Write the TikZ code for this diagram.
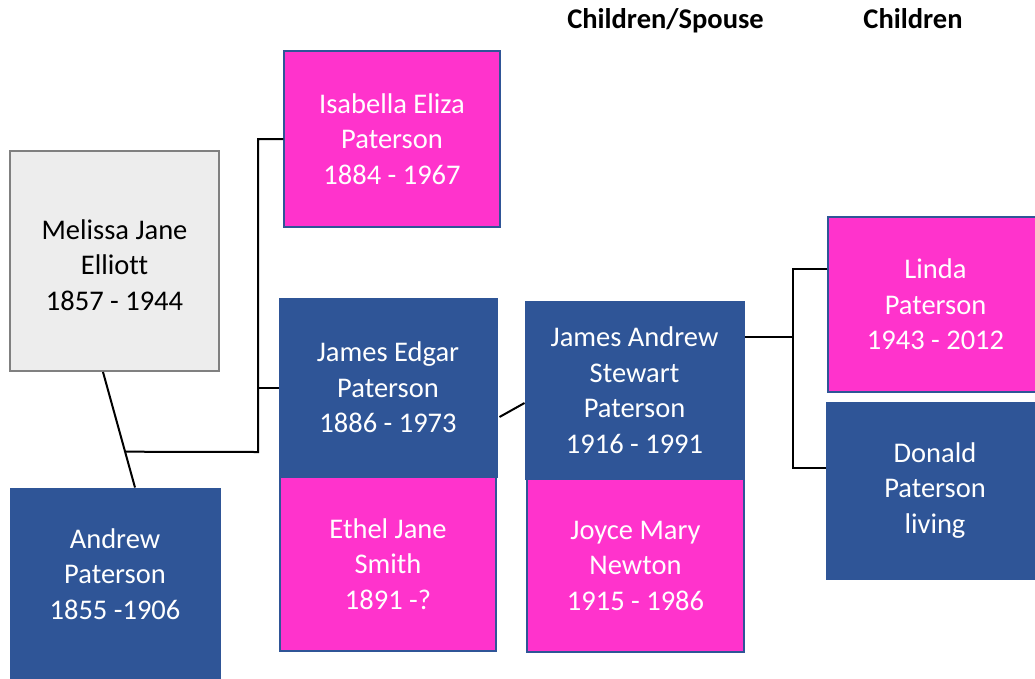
\documentclass[tikz,border=0pt]{standalone}
\usepackage{fontspec}
\setmainfont[Ligatures=NoCommon]{Carlito}
\usetikzlibrary{calc}
\definecolor{nblue}{HTML}{2F5597}
\definecolor{npink}{HTML}{FF33CC}
\definecolor{ngrayfill}{HTML}{EDEDED}
\definecolor{ngrayline}{HTML}{808080}
\tikzset{
  person/.style={rectangle, align=center, inner sep=0pt, font=\fontsize{28.5}{35.5}\selectfont},
  bluebox/.style={person, fill=nblue, draw=nblue, line width=1pt, text=white},
  pinkbox/.style={person, fill=npink, draw=nblue, line width=1.5pt, text=white},
  graybox/.style={person, fill=ngrayfill, draw=ngrayline, line width=2pt, text=black},
  header/.style={font=\bfseries\fontsize{28.5}{34}\selectfont, anchor=base, inner sep=0pt},
  link/.style={draw=black, line width=2pt},
}
\begin{document}
\begin{tikzpicture}[x=1pt,y=-1pt]
\useasboundingbox (0,0) rectangle (1035,678);
\fill[white] (0,0) rectangle (1035,678);

\node[header] (h1) at (665.5,28) {Children/Spouse};
\node[header] (h2) at (913,28) {Children};

\node[graybox, minimum width=209, minimum height=220] (melissa) at (114.5,261) {};
\node[person, text=black] (melissat) at (114.5,265) {Melissa Jane\\Elliott\\1857 - 1944};
\node[bluebox, minimum width=210, minimum height=192] (andrew) at (115,584) {};
\node[person, text=white] (andrewt) at (115,574) {Andrew\\Paterson\\1855 -1906};

\node[pinkbox, minimum width=216, minimum height=176] (isabella) at (392,139) {Isabella Eliza\\Paterson\\1884 - 1967};
\node[bluebox, minimum width=218, minimum height=179] (jedgar) at (388,387.5) {James Edgar\\Paterson\\1886 - 1973};
\node[pinkbox, minimum width=216, minimum height=174] (ethel) at (388,564) {Ethel Jane\\Smith\\1891 -?};

\node[bluebox, minimum width=219, minimum height=178] (jandrew) at (634.5,390) {James Andrew\\Stewart\\Paterson\\1916 - 1991};
\node[pinkbox, minimum width=217, minimum height=173] (joyce) at (635.5,565.5) {Joyce Mary\\Newton\\1915 - 1986};

\node[pinkbox, minimum width=215, minimum height=175] (linda) at (935.5,304.5) {Linda\\Paterson\\1943 - 2012};
\node[bluebox, minimum width=218, minimum height=177] (donald) at (935,490.5) {Donald\\Paterson\\living};

% marriage line Melissa - Andrew
\coordinate (mbot) at ($(melissa.south)+(-11.5,0)$);
\coordinate (atop) at ($(andrew.north)+(20,0)$);
\draw[link] (mbot) -- (atop);
\coordinate (mmid) at ($(mbot)!0.69!(atop)$);
\coordinate (bar1) at (258,452);
\draw[link] (mmid) -- (bar1) |- (isabella.west);
\draw[link] (bar1 |- jedgar.west) -- (jedgar.west);

% James Edgar - James Andrew
\coordinate (je) at ($(jedgar.east)+(2,29.5)$);
\coordinate (ja) at ($(jandrew.west)+(0,13)$);
\draw[link] (je) -- (ja);

% James Andrew - children
\coordinate (jaout) at ($(jandrew.east)+(0,-53)$);
\coordinate (bar2) at (793,337);
\draw[link] (jaout) -- (bar2);
\draw[link] (linda.west |- 0,269) -| (793,468) -- (donald.west |- 0,468);
\end{tikzpicture}
\end{document}
